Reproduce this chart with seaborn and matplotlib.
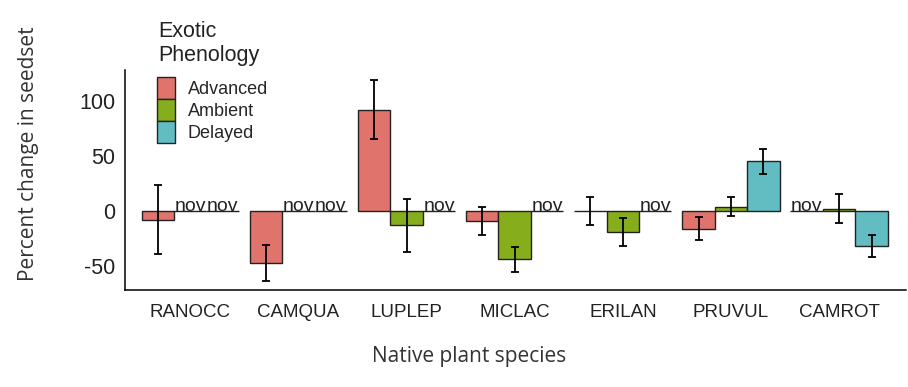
import matplotlib
matplotlib.use("Agg")
import matplotlib.pyplot as plt
import numpy as np
import pandas as pd
import seaborn as sns

# Data
species = ["RANOCC", "CAMQUA", "LUPLEP", "MICLAC", "ERILAN", "PRUVUL", "CAMROT"]
phenology = ["Advanced", "Ambient", "Delayed"]

advanced = [-8, -47, 92, -9, 0, -16, 0]
ambient = [0, 0, -13, -44, -19, 4, 2]
delayed = [0, 0, 0, 0, 0, 45, -32]

advanced_se = [31.5, 16.5, 27, 12.5, 13, 10.5, 0]
ambient_se = [0, 0, 24, 11, 12.5, 9, 13]
delayed_se = [0, 0, 0, 0, 0, 11.5, 10]

# "nov" = no overlap, no value
advanced_nov = [False, False, False, False, False, False, True]
ambient_nov = [True, True, False, False, False, False, False]
delayed_nov = [True, True, True, True, True, False, False]

palette = {"Advanced": "#E0736C", "Ambient": "#86AD1C", "Delayed": "#62BDC3"}

rows = []
for lvl, vals, errs, novs in zip(phenology,
                                 [advanced, ambient, delayed],
                                 [advanced_se, ambient_se, delayed_se],
                                 [advanced_nov, ambient_nov, delayed_nov]):
    for sp, v, e, n in zip(species, vals, errs, novs):
        rows.append({"species": sp, "phenology": lvl, "change": v, "se": e, "nov": n})
df = pd.DataFrame(rows)

sns.set_style("white")
plt.rcParams["font.family"] = ["Liberation Sans", "DejaVu Sans"]

fig = plt.figure(figsize=(9.08, 3.87), dpi=100)
ax = fig.add_axes([0.138, 0.25, 0.86, 0.569])

sns.barplot(data=df, x="species", y="change", hue="phenology", order=species,
            hue_order=phenology, palette=palette, width=0.9, errorbar=None,
            edgecolor="#222222", linewidth=1.0, saturation=1, ax=ax)

# error bars and "nov" labels on top of seaborn's bars
for lvl, container in zip(phenology, ax.containers):
    sub = df[df["phenology"] == lvl].set_index("species").loc[species]
    for bar, (_, r) in zip(container, sub.iterrows()):
        xc = bar.get_x() + bar.get_width() / 2
        if r["se"] > 0:
            ax.errorbar(xc, r["change"], yerr=r["se"], fmt="none", ecolor="black",
                        elinewidth=1.3, capsize=3, capthick=1.3, zorder=5)
        if r["nov"]:
            ax.text(xc, 0.3, "nov", ha="center", va="baseline", fontsize=14,
                    color="#222222")

ax.set_xlim(-0.6, 6.62)
ax.set_ylim(-72, 128)
ax.set_yticks([-50, 0, 50, 100])
ax.set_yticklabels(["-50", "0", "50", "100"])
ax.tick_params(axis="y", labelsize=15.5, length=4, width=1, colors="black", pad=3)
ax.tick_params(axis="x", labelsize=13.5, length=4, width=1, colors="black", pad=6)
for lab in ax.get_yticklabels() + ax.get_xticklabels():
    lab.set_color("#222222")

sns.despine(ax=ax)
for s in ["left", "bottom"]:
    ax.spines[s].set_color("black")
    ax.spines[s].set_linewidth(1.1)

ax.set_xlabel("Native plant species", fontsize=15, family=["Open Sans", "DejaVu Sans"],
              color="#333333")
ax.set_ylabel("Percent change in seedset", fontsize=15, family=["Open Sans", "DejaVu Sans"],
              color="#333333")
ax.xaxis.set_label_coords(0.44, -0.255)
ax.yaxis.set_label_coords(-0.11, 0.62)

# legend title drawn separately so the key boxes can sit flush together
fig.text(0.174, 0.946, "Exotic\nPhenology", ha="left", va="top", fontsize=15.5,
         color="#222222", linespacing=1.2)
leg = ax.legend(loc="upper left",
                bbox_to_anchor=(0.173, 0.801), bbox_transform=fig.transFigure,
                frameon=False, fontsize=13,
                handlelength=1.0, handleheight=1.5, labelspacing=0.0,
                handletextpad=0.7, borderaxespad=0, borderpad=0)

fig.savefig("out.png", dpi=100)
